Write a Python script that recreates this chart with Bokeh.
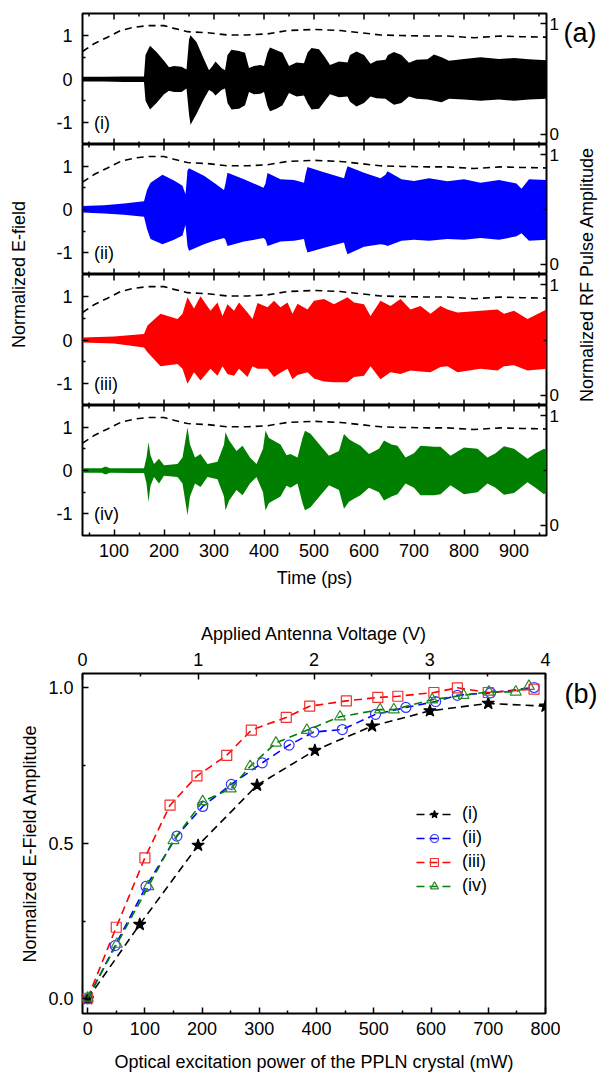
from math import pi
from bokeh.plotting import figure
from bokeh.models import Range1d, LinearAxis, FixedTicker, Label, Legend, LegendItem
from bokeh.layouts import column, row
from bokeh.embed import file_html
from bokeh.resources import INLINE
from bokeh.core.properties import value

FONT = "Liberation Sans"

# ---------------- Panel (a) data: field envelopes (upper / lower) ----------------
time_i = [37, 80, 120, 160, 163, 172, 185, 200, 210, 220, 235, 245, 250, 253, 265, 280, 290, 297, 303, 315,
          322, 327, 335, 350, 362, 370, 380, 393, 400, 407, 412, 425, 437, 450, 465, 480, 487, 495, 510, 522,
          532, 550, 567, 572, 585, 600, 613, 625, 643, 648, 660, 675, 690, 705, 727, 740, 755, 770, 800, 833,
          870, 900, 930, 965]
upper_i = [0.05, 0.05, 0.06, 0.06, 0.55, 0.76, 0.62, 0.42, 0.27, 0.3, 0.28, 0.22, 0.9, 1.0, 0.85, 0.45, 0.2, 0.3, 0.4, 0.25,
           0.2, 0.55, 0.67, 0.64, 0.6, 0.25, 0.3, 0.32, 0.3, 0.6, 0.72, 0.66, 0.6, 0.3, 0.38, 0.36, 0.6, 0.71, 0.68, 0.5,
           0.32, 0.4, 0.38, 0.55, 0.63, 0.55, 0.35, 0.42, 0.44, 0.55, 0.62, 0.55, 0.37, 0.44, 0.45, 0.56, 0.5, 0.42, 0.46, 0.5,
           0.46, 0.48, 0.45, 0.43]
lower_i = [-0.06, -0.06, -0.07, -0.07, -0.5, -0.7, -0.55, -0.35, -0.27, -0.3, -0.3, -0.22, -0.8, -1.05, -0.8, -0.45, -0.25, -0.3, -0.38, -0.25,
           -0.22, -0.55, -0.7, -0.68, -0.6, -0.3, -0.35, -0.34, -0.3, -0.62, -0.74, -0.68, -0.6, -0.32, -0.4, -0.38, -0.55, -0.7, -0.68, -0.5,
           -0.35, -0.42, -0.4, -0.52, -0.63, -0.55, -0.4, -0.44, -0.45, -0.5, -0.59, -0.55, -0.4, -0.45, -0.47, -0.5, -0.53, -0.45, -0.47, -0.5,
           -0.47, -0.5, -0.47, -0.45]

time_ii = [37, 80, 120, 160, 166, 173, 197, 220, 237, 243, 247, 250, 280, 300, 320, 323, 327, 360, 399, 403,
           407, 433, 460, 480, 483, 487, 520, 560, 563, 567, 600, 633, 643, 647, 675, 700, 730, 767, 800, 833,
           870, 905, 915, 930, 965]
upper_ii = [0.08, 0.1, 0.14, 0.19, 0.45, 0.62, 0.8, 0.67, 0.55, 0.35, 0.9, 0.95, 0.78, 0.62, 0.45, 0.6, 0.85, 0.7, 0.5, 0.6,
            0.84, 0.7, 0.68, 0.62, 0.8, 0.98, 0.86, 0.72, 0.85, 1.0, 0.85, 0.72, 0.8, 0.88, 0.7, 0.66, 0.72, 0.65, 0.7, 0.62,
            0.68, 0.6, 0.48, 0.7, 0.68]
lower_ii = [-0.07, -0.09, -0.12, -0.17, -0.45, -0.68, -0.8, -0.7, -0.6, -0.35, -0.85, -0.95, -0.8, -0.72, -0.66, -0.7, -0.84, -0.74, -0.66, -0.7,
            -0.84, -0.74, -0.72, -0.68, -0.85, -0.99, -0.88, -0.76, -0.9, -1.03, -0.86, -0.8, -0.82, -0.84, -0.72, -0.7, -0.72, -0.68, -0.7, -0.66,
            -0.7, -0.62, -0.55, -0.72, -0.7]

time_iii = [37, 100, 160, 167, 193, 227, 237, 247, 260, 273, 293, 307, 317, 327, 340, 350, 367, 377, 387, 407,
            420, 433, 447, 457, 467, 487, 500, 520, 540, 567, 580, 600, 613, 633, 653, 673, 693, 713, 733, 753,
            767, 787, 833, 867, 880, 900, 927, 965]
upper_iii = [0.06, 0.08, 0.14, 0.33, 0.6, 0.48, 0.6, 0.98, 0.72, 1.0, 0.67, 0.86, 0.55, 0.82, 0.67, 0.86, 0.63, 0.48, 0.85, 0.75,
             0.9, 0.75, 0.86, 0.6, 0.83, 0.7, 0.9, 0.94, 0.82, 0.98, 0.86, 0.82, 0.55, 0.9, 0.78, 0.94, 0.7, 0.78, 0.6, 0.78,
             0.7, 0.63, 0.67, 0.7, 0.6, 0.67, 0.48, 0.7]
lower_iii = [-0.06, -0.08, -0.17, -0.28, -0.6, -0.55, -0.66, -1.0, -0.74, -0.93, -0.66, -0.82, -0.6, -0.78, -0.82, -0.66, -0.85, -0.6, -0.66, -0.66,
             -0.85, -0.75, -0.66, -0.9, -0.8, -0.74, -0.88, -0.95, -0.97, -0.97, -0.85, -0.82, -0.6, -0.9, -0.74, -0.78, -0.7, -0.72, -0.74, -0.62,
             -0.6, -0.74, -0.66, -0.7, -0.6, -0.58, -0.7, -0.66]

time_iv = [37, 75, 83, 92, 133, 160, 165, 169, 173, 180, 190, 200, 227, 237, 247, 252, 262, 273, 287, 307,
           320, 323, 330, 345, 357, 372, 385, 398, 403, 410, 433, 445, 453, 467, 477, 482, 493, 513, 530, 550,
           560, 570, 580, 593, 610, 630, 640, 655, 667, 683, 700, 713, 740, 753, 773, 800, 827, 847, 863, 880,
           900, 927, 943, 960, 965]
upper_iv = [0.05, 0.05, 0.09, 0.05, 0.05, 0.05, 0.3, 0.65, 0.35, 0.15, 0.27, 0.12, 0.15, 0.3, 0.99, 0.6, 0.3, 0.38, 0.15, 0.2,
            0.6, 0.88, 0.7, 0.45, 0.57, 0.3, 0.15, 0.5, 0.92, 0.75, 0.6, 0.35, 0.38, 0.3, 0.75, 0.92, 0.85, 0.57, 0.34, 0.45,
            0.84, 0.72, 0.65, 0.57, 0.38, 0.5, 0.69, 0.6, 0.57, 0.3, 0.4, 0.57, 0.55, 0.55, 0.34, 0.53, 0.5, 0.3, 0.4, 0.56,
            0.5, 0.27, 0.4, 0.5, 0.48]
lower_iv = [-0.05, -0.05, -0.09, -0.05, -0.06, -0.06, -0.3, -0.72, -0.35, -0.15, -0.3, -0.12, -0.15, -0.3, -1.03, -0.6, -0.3, -0.38, -0.15, -0.2,
            -0.6, -0.92, -0.7, -0.45, -0.57, -0.3, -0.15, -0.5, -0.92, -0.75, -0.6, -0.35, -0.4, -0.3, -0.75, -0.92, -0.85, -0.57, -0.34, -0.45,
            -0.88, -0.72, -0.65, -0.57, -0.4, -0.5, -0.69, -0.6, -0.55, -0.3, -0.4, -0.57, -0.57, -0.55, -0.34, -0.55, -0.5, -0.3, -0.4, -0.56,
            -0.52, -0.27, -0.4, -0.55, -0.5]

# RF pulse amplitude (dashed, right axis)
rf_time = [37, 60, 87, 113, 140, 167, 200, 220, 247, 287, 327, 367, 407, 447, 500, 553, 593, 633, 673, 727, 767, 820, 873, 913, 965]
rf_amp = [0.75, 0.82, 0.88, 0.94, 0.97, 0.985, 0.985, 0.96, 0.93, 0.92, 0.90, 0.90, 0.91, 0.94, 0.95, 0.94, 0.92, 0.90, 0.895, 0.89, 0.89, 0.875, 0.89, 0.885, 0.88]

# ---------------- Panel (b) data ----------------
power_i = [0, 91, 193, 296, 397, 497, 598, 700, 800]
amp_i = [0.0, 0.239, 0.493, 0.686, 0.798, 0.876, 0.925, 0.949, 0.940]
power_ii = [0, 48, 102, 156, 201, 251, 305, 352, 395, 445, 503, 556, 608, 646, 704, 780]
amp_ii = [0.0, 0.171, 0.361, 0.523, 0.618, 0.689, 0.758, 0.815, 0.857, 0.865, 0.914, 0.936, 0.955, 0.975, 0.983, 1.0]
power_iii = [0, 50, 100, 144, 191, 243, 286, 347, 388, 452, 507, 542, 605, 646, 700, 780]
amp_iii = [0.002, 0.230, 0.453, 0.622, 0.716, 0.782, 0.863, 0.904, 0.940, 0.957, 0.968, 0.972, 0.984, 0.999, 0.984, 0.995]
power_iv = [0, 51, 106, 150, 201, 250, 284, 329, 383, 441, 511, 535, 602, 657, 701, 748, 771]
amp_iv = [0.003, 0.176, 0.361, 0.509, 0.634, 0.675, 0.747, 0.822, 0.863, 0.906, 0.929, 0.929, 0.961, 0.975, 0.986, 0.986, 1.004]

series_labels = ["(i)", "(ii)", "(iii)", "(iv)"]
wave_colors = ["#000000", "#0000FF", "#FF0000", "#007F00"]

time_major = [100, 200, 300, 400, 500, 600, 700, 800, 900]
time_minor = [50, 150, 250, 350, 450, 550, 650, 750, 850, 950]
field_major = [-1, 0, 1]
field_minor = [-0.5, 0.5]
rf_major = [0, 1]
rf_minor = [0.5]
power_major = [0, 100, 200, 300, 400, 500, 600, 700, 800]
power_minor = [50, 150, 250, 350, 450, 550, 650, 750]
amp_major = [0, 0.5, 1.0]
amp_minor = [0.25, 0.75]
amp_labels = {0: "0.0", 0.5: "0.5", 1: "1.0"}
volt_major = [0, 1, 2, 3, 4]
volt_minor = [0.5, 1.5, 2.5, 3.5]

T_LO, T_HI = 37, 965
E_LO, E_HI = -1.5, 1.5
RF_LO, RF_HI = -0.095, 1.095


def style_axis(ax, fs="18px", standoff=8):
    ax.major_tick_in = 6
    ax.major_tick_out = 0
    ax.minor_tick_in = 3
    ax.minor_tick_out = 0
    ax.axis_line_color = None
    ax.major_tick_line_color = "black"
    ax.minor_tick_line_color = "black"
    ax.major_tick_line_width = 1.5
    ax.minor_tick_line_width = 1.5
    ax.major_label_text_font = FONT
    ax.major_label_text_color = "black"
    ax.major_label_text_font_size = fs
    ax.major_label_standoff = standoff
    ax.axis_label_text_font = FONT
    ax.axis_label_text_font_style = "normal"
    ax.axis_label_text_color = "black"
    ax.axis_label_text_font_size = "18px"
    return ax


def no_grid(p):
    p.xgrid.visible = False
    p.ygrid.visible = False
    p.grid.visible = False


FW = 464
heights = [131, 130, 131, 130]
TOP_A = 13
BOTTOM_A = 58
LEFT_W = 30
RIGHT_W = 37
waves = [(time_i, upper_i, lower_i), (time_ii, upper_ii, lower_ii),
         (time_iii, upper_iii, lower_iii), (time_iv, upper_iv, lower_iv)]

wave_figs = []
for k, ((t, up, lo), col, lab, fh) in enumerate(zip(waves, wave_colors, series_labels, heights)):
    last = k == 3
    p = figure(frame_width=FW, frame_height=fh, x_range=Range1d(T_LO, T_HI), y_range=Range1d(E_LO, E_HI),
               output_backend="svg", toolbar_location=None, x_axis_location=None, y_axis_location=None,
               min_border_left=52, min_border_right=14, min_border_top=TOP_A if k == 0 else 0,
               min_border_bottom=BOTTOM_A if last else 0)
    no_grid(p)
    p.extra_y_ranges = {"rf": Range1d(RF_LO, RF_HI)}
    p.outline_line_color = "black"
    p.outline_line_width = 2
    p.background_fill_color = "white"
    p.border_fill_color = "white"
    p.varea(x=t, y1=lo, y2=up, fill_color=col, fill_alpha=1.0)
    p.line(x=rf_time, y=rf_amp, y_range_name="rf", line_color="black", line_width=1.6, line_dash="7 5")

    left = style_axis(LinearAxis(ticker=FixedTicker(ticks=field_major, minor_ticks=field_minor)), standoff=10)
    left.major_label_overrides = {-1: "-1"}
    p.add_layout(left, "left")
    right = style_axis(LinearAxis(y_range_name="rf", ticker=FixedTicker(ticks=rf_major, minor_ticks=rf_minor)),
                       fs="17px", standoff=3)
    p.add_layout(right, "right")

    # inward time ticks on the inner (shared) edges of the stacked panels
    edges = [E_HI] if last else [E_HI, E_LO]
    for yy in edges:
        p.scatter(x=time_major, y=[yy] * len(time_major), marker="dash", angle=pi / 2, size=12,
                  line_color="black", line_width=1.5)
        p.scatter(x=time_minor, y=[yy] * len(time_minor), marker="dash", angle=pi / 2, size=6,
                  line_color="black", line_width=1.5)
    if last:
        bottom = style_axis(LinearAxis(ticker=FixedTicker(ticks=time_major, minor_ticks=time_minor)))
        bottom.axis_label = "Time (ps)"
        bottom.axis_label_standoff = 8
        p.add_layout(bottom, "below")
    p.add_layout(Label(x=60, y=-1.0, text=lab, text_font=FONT, text_font_size="18px",
                       text_baseline="middle", text_align="left", text_color="black"))
    wave_figs.append(p)

TOTAL_A = TOP_A + sum(heights) + BOTTOM_A


def label_fig(w, h):
    p = figure(width=w, height=h, x_range=Range1d(0, w), y_range=Range1d(0, h), output_backend="svg",
               toolbar_location=None, min_border=0, x_axis_location=None, y_axis_location=None)
    no_grid(p)
    p.outline_line_color = None
    p.background_fill_color = "white"
    p.border_fill_color = "white"
    return p


left_lab = label_fig(LEFT_W, TOTAL_A)
left_lab.text(x=[18], y=[TOTAL_A - 274], text=["Normalized E-field"], angle=pi / 2,
              text_align="center", text_baseline="middle", text_font=value(FONT),
              text_font_size="18px", text_color="black")

# ---------------- Panel (b) ----------------
PB_TOP, PB_H, PB_BOT = 80, 340, 63
PB_TOTAL = PB_TOP + PB_H + PB_BOT
PB_LEFT, PB_FW, PB_RIGHT = 82, 463, 15
pb = figure(width=PB_LEFT + PB_FW + PB_RIGHT, height=PB_TOTAL, x_range=Range1d(-9, 800),
            y_range=Range1d(-0.047, 1.045),
            output_backend="svg", toolbar_location=None, x_axis_location=None, y_axis_location=None,
            min_border_left=PB_LEFT, min_border_right=PB_RIGHT, min_border_top=PB_TOP, min_border_bottom=PB_BOT)
no_grid(pb)
pb.extra_x_ranges = {"volt": Range1d(0, 4)}
pb.outline_line_color = "black"
pb.outline_line_width = 2
pb.background_fill_color = "white"
pb.border_fill_color = "white"

lb = style_axis(LinearAxis(ticker=FixedTicker(ticks=amp_major, minor_ticks=amp_minor)), standoff=9)
lb.major_label_overrides = amp_labels
lb.axis_label = "Normalized E-Field Amplitude"
lb.axis_label_standoff = 5
pb.add_layout(lb, "left")
bb = style_axis(LinearAxis(ticker=FixedTicker(ticks=power_major, minor_ticks=power_minor)))
bb.axis_label = "Optical excitation power of the PPLN crystal (mW)"
bb.axis_label_standoff = 14
pb.add_layout(bb, "below")
tb = style_axis(LinearAxis(x_range_name="volt", ticker=FixedTicker(ticks=volt_major, minor_ticks=volt_minor)),
                standoff=8)
tb.axis_label = "Applied Antenna Voltage (V)"
tb.axis_label_standoff = 6
pb.add_layout(tb, "above")

DASH = "8 5"
items = []
specs = [
    (power_i, amp_i, "#000000", "star", "#000000", 13),
    (power_ii, amp_ii, "#0000FF", "circle", None, 10),
    (power_iii, amp_iii, "#FF0000", "square", None, 10),
    (power_iv, amp_iv, "#008000", "triangle", None, 11),
]
marker_colors = ["#000000", "#3333FF", "#F03030", "#2E8B2E"]
for (px, py, lc, mk, fc, ms), lab, mc in zip(specs, series_labels, marker_colors):
    lr = pb.line(x=px, y=py, line_color=lc, line_width=1.6, line_dash=DASH)
    sr = pb.scatter(x=px, y=py, marker=mk, size=ms, line_color=mc, line_width=1.2,
                    fill_color=fc if fc else None, fill_alpha=1.0 if fc else 0)
    items.append(LegendItem(label=lab, renderers=[lr, sr]))

legend = Legend(items=items, location=(334, 117), background_fill_alpha=0, border_line_color=None,
                padding=0, margin=0, spacing=3, glyph_width=36, glyph_height=20, label_height=20,
                label_standoff=10, label_text_font=FONT, label_text_font_size="18px",
                label_text_color="black")
pb.add_layout(legend)

# right-hand label strip spanning both panels
TOTAL = TOTAL_A + PB_TOTAL
right_lab = label_fig(RIGHT_W, TOTAL)
right_lab.text(x=[25], y=[TOTAL - 274], text=["Normalized RF Pulse Amplitude"], angle=pi / 2,
               text_align="center", text_baseline="middle", text_font=value(FONT),
               text_font_size="18px", text_color="black")
right_lab.text(x=[2], y=[TOTAL - 32], text=["(a)"], text_align="left", text_baseline="middle",
               text_font=value(FONT), text_font_size="27px", text_color="black")
right_lab.text(x=[3], y=[TOTAL - 693], text=["(b)"], text_align="left", text_baseline="middle",
               text_font=value(FONT), text_font_size="27px", text_color="black")

panel_a = row(left_lab, column(*wave_figs))
layout = row(column(panel_a, pb), right_lab)

with open("out.html", "w") as f:
    f.write(file_html(layout, INLINE))
